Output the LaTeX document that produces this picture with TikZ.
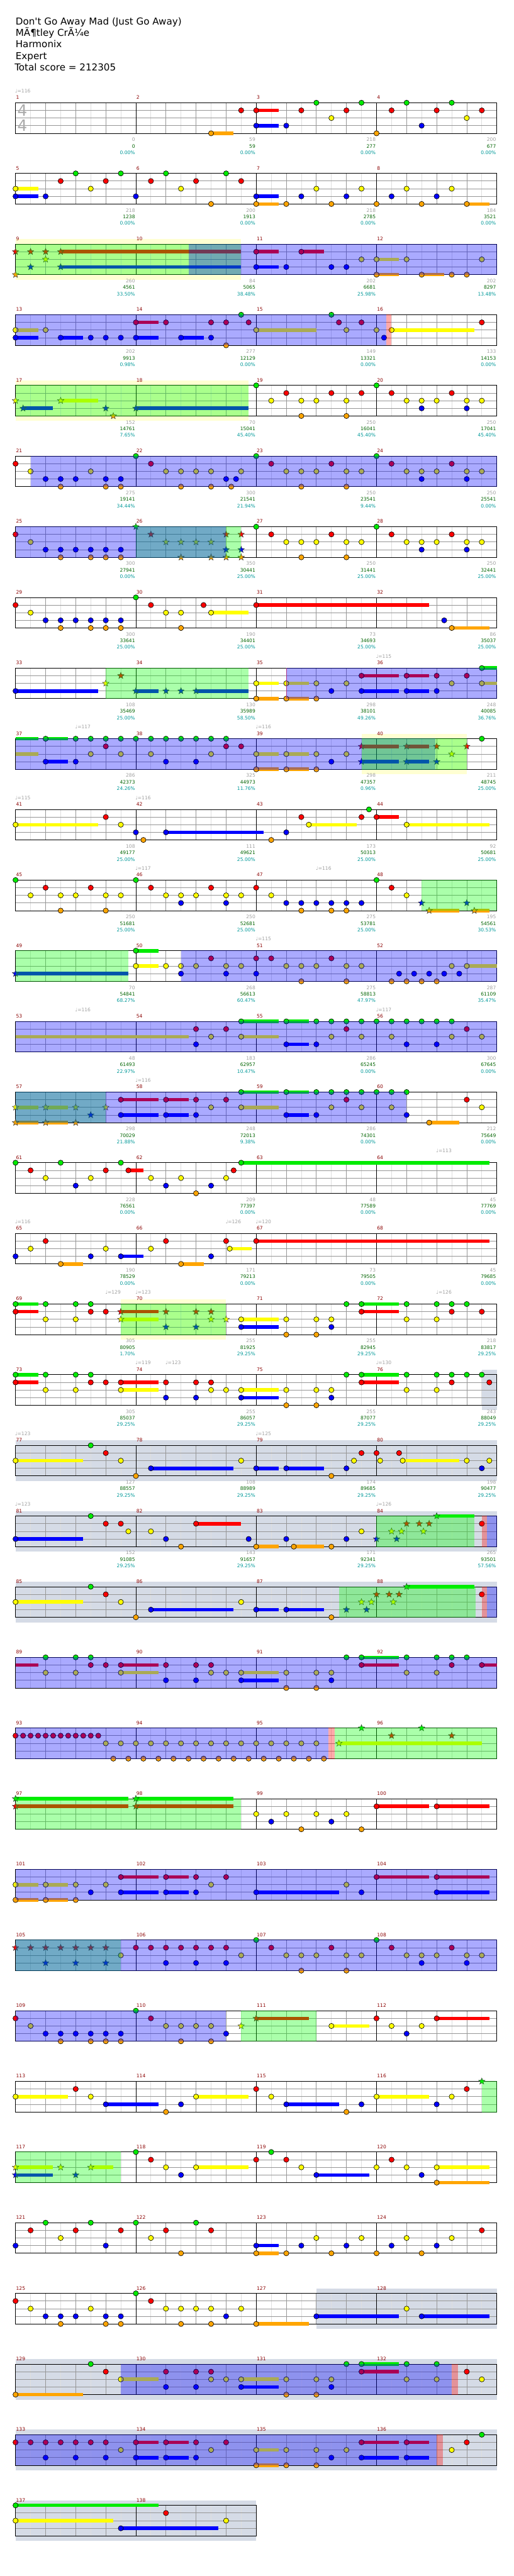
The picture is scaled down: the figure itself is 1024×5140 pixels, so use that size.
\documentclass[tikz,border=0pt]{standalone}
\usepackage{fontspec}
\setmainfont{DejaVu Sans}[Ligatures=TeXOff]
\definecolor{lane0}{RGB}{0,235,0}
\definecolor{lane1}{RGB}{255,0,0}
\definecolor{lane2}{RGB}{255,255,0}
\definecolor{lane3}{RGB}{0,0,255}
\definecolor{lane4}{RGB}{255,165,0}
\definecolor{ovg}{RGB}{0,255,0}
\definecolor{ovb}{RGB}{0,0,255}
\definecolor{ovp}{RGB}{255,0,0}
\definecolor{mnumc}{RGB}{139,0,0}
\definecolor{graytxt}{RGB}{160,160,160}
\definecolor{greentxt}{RGB}{0,100,0}
\definecolor{tealtxt}{RGB}{0,153,153}
\definecolor{gridc}{RGB}{150,150,150}
\definecolor{lgridc}{RGB}{222,222,222}
\definecolor{bgyel}{RGB}{255,255,210}
\definecolor{bgslate}{RGB}{213,219,230}
\definecolor{tsigc}{RGB}{170,170,170}
\tikzset{
  notec/.style={draw=black,line width=0.8pt},
  starc/.style={draw=black!80,line width=0.6pt},
  susb/.style={line width=7pt},
  gridl/.style={draw=gridc,line width=1pt},
  lgridl/.style={draw=lgridc,line width=1pt},
  barl/.style={draw=black,line width=1pt},
  mnum/.style={font=\fontsize{9.5}{11}\selectfont,text=mnumc,inner sep=0pt,anchor=base west},
  gnum/.style={font=\fontsize{9.5}{11}\selectfont,text=graytxt,inner sep=0pt,anchor=base east},
  snum/.style={font=\fontsize{9.5}{11}\selectfont,text=greentxt,inner sep=0pt,anchor=base east},
  pnum/.style={font=\fontsize{9.5}{11}\selectfont,text=tealtxt,inner sep=0pt,anchor=base east},
  tempo/.style={font=\fontsize{9.5}{11}\selectfont,text=graytxt,inner sep=0pt,anchor=base west},
  titl/.style={font=\fontsize{19}{23}\selectfont,text=black,inner sep=0pt,anchor=base west},
  tsig/.style={font=\fontsize{31}{31}\selectfont,text=tsigc,inner sep=0pt,anchor=center},
}
\newcount\tcnt
\newcommand\RowAt[1]{\pgfmathsetmacro\RT{205+141*(#1-1)}}
\newcommand\Nn[2]{\foreach \lnn in {#2}{\filldraw[notec,fill=lane\lnn] ({31+60*(#1)},{\RT+15.25*\lnn}) circle[radius=5.2];}}
\newcommand\Sus[3]{\foreach \lnn in {#2}{\draw[susb,lane\lnn] ({31+60*(#1)},{\RT+15.25*\lnn}) -- ({31+60*(#3)},{\RT+15.25*\lnn});}}
\newcommand\Ns[3]{\Sus{#1}{#2}{#3}\Nn{#1}{#2}}
\newcommand\Xn[2]{\foreach \lnn in {#2}{%
  \pgfmathsetmacro\cx{31+60*(#1)}\pgfmathsetmacro\cy{\RT+15.25*\lnn}%
  \filldraw[starc,fill=lane\lnn] (\cx,{\cy-6.8}) \foreach \k in {1,...,9}{ -- ({\cx+((mod(\k,2)==0)?6.8:2.9)*cos(-90+36*\k)},{\cy+((mod(\k,2)==0)?6.8:2.9)*sin(-90+36*\k)}) } -- cycle;}}
\newcommand\Xs[3]{\Sus{#1}{#2}{#3}\Xn{#1}{#2}}
\newcommand\OvG[2]{\fill[ovg,opacity=0.333] ({31+60*(#1)},{\RT-0.5}) rectangle ({31+60*(#2)},{\RT+61.5});}
\newcommand\OvB[2]{\fill[ovb,opacity=0.333] ({31+60*(#1)},{\RT-0.5}) rectangle ({31+60*(#2)},{\RT+61.5});}
\newcommand\OvP[2]{\fill[ovp,opacity=0.333] ({31+60*(#1)},{\RT-0.5}) rectangle ({31+60*(#2)},{\RT+61.5});}
\newcommand\RL[1]{\draw[red!70,line width=1pt] ({31+60*(#1)},\RT) -- ({31+60*(#1)},{\RT+61});}
\newcommand\BgY[2]{\fill[bgyel] ({31+60*(#1)},{\RT-10}) rectangle ({31+60*(#2)},{\RT+71});}
\newcommand\BgS[2]{\fill[bgslate] ({31+60*(#1)},{\RT-10}) rectangle ({31+60*(#2)},{\RT+71});}
\newcommand\Staff[1]{%
  \pgfmathsetmacro\XE{31+240*#1}\pgfmathtruncatemacro\NB{4*#1}%
  \foreach \i in {1,...,\NB}{\draw[lgridl] ({1+60*\i},\RT) -- ({1+60*\i},{\RT+61});}%
  \foreach \i in {1,...,\NB}{\draw[gridl] ({31+60*\i},\RT) -- ({31+60*\i},{\RT+61});}%
  \foreach \k in {1,2,3}{\draw[gridl] (31,{\RT+15.25*\k}) -- (\XE,{\RT+15.25*\k});}%
  \foreach \m in {1,...,#1}{\draw[barl] ({31+240*\m},\RT) -- ({31+240*\m},{\RT+61});}%
  \draw[barl] (31,\RT) rectangle (\XE,{\RT+61});}
\newcommand\Meas[5]{%
  \node[mnum] (m#2) at ({32+240*#1},{\RT-7}) {#2};
  \node[gnum] (g#2) at ({29.5+240*(#1+1)},{\RT+77}) {#3};
  \node[snum] (s#2) at ({29.5+240*(#1+1)},{\RT+90}) {#4};
  \node[pnum] (p#2) at ({29.5+240*(#1+1)},{\RT+103}) {#5\%};}
\newcommand\MN[2]{\node[mnum] (m#2) at ({32+240*#1},{\RT-7}) {#2};}
\newcommand\Tempo[2]{\global\advance\tcnt by 1
  \node[tempo] (tempo\the\tcnt) at ({30+60*(#1)},{\RT-20}) {♩=#2};}
\newcommand\RowMN[1]{\foreach \q in {0,...,3}{\pgfmathtruncatemacro\mm{4*#1-3+\q}\MN{\q}{\mm}}}
\begin{document}
\begin{tikzpicture}[x=1pt,y=-1pt]
\useasboundingbox (0,0) rectangle (1024,5140);
\fill[white] (0,0) rectangle (1024,5140);
\node[titl] (title) at (31,49) {Don't Go Away Mad (Just Go Away)};
\node[titl] (artist) at (31,72) {MÃ¶tley CrÃ¼e};
\node[titl] (charter) at (31,95) {Harmonix};
\node[titl] (diff) at (31,118) {Expert};
\node[titl] (score) at (29,141) {Total score = 212305};
% ---------- row 1
\RowAt{1}\Staff{4}
\node[tsig] (ts1) at (44.5,{\RT+15.5}) {4};
\node[tsig] (ts2) at (44.5,{\RT+45}) {4};
\Tempo{0}{116}
\Meas{0}{1}{0}{0}{0.00}\Meas{1}{2}{59}{59}{0.00}\Meas{2}{3}{218}{277}{0.00}\Meas{3}{4}{200}{677}{0.00}
\Ns{6.5}{4}{7.25}\Nn{7.5}{1}\Ns{8}{1,3}{8.75}\Nn{9}{3}\Nn{9.5}{1}\Nn{10}{0}\Nn{10.5}{2}\Nn{11}{1}\Nn{11.5}{0}\Nn{12}{4}\Nn{12.5}{1}\Nn{13}{0}\Nn{13.5}{3}\Nn{14}{1}\Nn{14.5}{0}\Nn{15}{2}\Nn{15.5}{1}
% ---------- row 2
\RowAt{2}\Staff{4}
\Meas{0}{5}{218}{1238}{0.00}\Meas{1}{6}{200}{1913}{0.00}\Meas{2}{7}{218}{2785}{0.00}\Meas{3}{8}{184}{3521}{0.00}
\Ns{0}{2,3}{0.75}\Nn{1}{3}\Nn{1.5}{1}\Nn{2}{0}\Nn{2.5}{2}\Nn{3}{1}\Nn{3.5}{0}\Nn{4}{3}\Nn{4.5}{1}\Nn{5}{0}\Nn{5.5}{2}\Nn{6}{1}\Nn{6.5}{4}\Nn{7}{0}\Nn{7.5}{1}
\Ns{8}{3,4}{8.75}\Nn{9}{4}\Nn{9.5}{3}\Nn{10}{2}\Nn{10.5}{4}\Nn{11}{3}\Nn{11.5}{2}\Nn{12}{4}\Nn{12.5}{3}\Nn{13}{2}\Nn{13.5}{4}\Nn{14}{3}\Nn{14.5}{2}\Ns{15}{4}{15.75}
% ---------- row 3
\RowAt{3}\BgY{0}{7.5}\Staff{4}
\Meas{0}{9}{260}{4561}{33.50}\Meas{1}{10}{84}{5065}{38.48}\Meas{2}{11}{202}{6681}{25.98}\Meas{3}{12}{202}{8297}{13.48}
\Xn{0}{1,4}\Xn{0.5}{1,3}\Xn{1}{1,2}\Xs{1.5}{1,3}{7.5}
\Ns{8}{1,3}{8.75}\Nn{9}{3}\Ns{9.5}{1}{10.25}\Nn{10.5}{3}\Nn{11}{3}\Nn{11.5}{2}\Ns{12}{2,4}{12.75}\Nn{13}{2}\Ns{13.5}{4}{14.25}\Nn{14.5}{4}\Nn{15}{4}\Nn{15.5}{2}
\OvG{0}{7.5}\OvB{5.75}{16}
% ---------- row 4
\RowAt{4}\Staff{4}
\Meas{0}{13}{202}{9913}{0.98}\Meas{1}{14}{277}{12129}{0.00}\Meas{2}{15}{149}{13321}{0.00}\Meas{3}{16}{133}{14153}{0.00}
\Ns{0}{2,3}{0.75}\Nn{1}{2}\Ns{1.5}{3}{2.25}\Nn{2.5}{3}\Nn{3}{3}\Nn{3.5}{3}\Ns{4}{1,3}{4.75}\Nn{5}{1}\Ns{5.5}{3}{6.25}\Nn{6.5}{1,3}\Nn{7}{1,4}\Nn{7.5}{0}\Nn{7.75}{1}\Ns{8}{2}{10}\Nn{10.5}{0}\Nn{10.75}{1}\Nn{11}{2}\Nn{11.5}{1}\Nn{12}{2}\Nn{12.25}{3}\Ns{12.5}{2}{15.25}\Nn{15.5}{1}
\OvB{0}{12.32}\OvP{12.32}{12.5}
% ---------- row 5
\RowAt{5}\BgY{0}{7.75}\Staff{4}
\Meas{0}{17}{152}{14761}{7.65}\Meas{1}{18}{70}{15041}{45.40}\Meas{2}{19}{250}{16041}{45.40}\Meas{3}{20}{250}{17041}{45.40}
\Xn{0}{2}\Xs{0.25}{3}{1.25}\Xs{1.5}{2}{2.75}\Xn{3}{3}\Xn{3.25}{4}\Xs{4}{3}{7.75}
\Nn{8}{0}\Nn{8.5}{2}\Nn{9}{1}\Nn{9.5}{2,4}\Nn{10}{2}\Nn{10.5}{1}\Nn{11}{2,4}\Nn{11.5}{1}\Nn{12}{0}\Nn{12.5}{1}\Nn{13}{2}\Nn{13.5}{2,3}\Nn{14}{2}\Nn{14.5}{1}\Nn{15}{2,3}\Nn{15.5}{2}
\OvG{0}{7.75}
% ---------- row 6
\RowAt{6}\Staff{4}
\Meas{0}{21}{275}{19141}{34.44}\Meas{1}{22}{300}{21541}{21.94}\Meas{2}{23}{250}{23541}{9.44}\Meas{3}{24}{250}{25541}{0.00}
\Nn{0}{1}\Nn{0.5}{2}\Nn{1}{3}\Nn{1.5}{3,4}\Nn{2}{3}\Nn{2.5}{2}\Nn{3}{3,4}\Nn{3.5}{3,4}\Nn{4}{0}\Nn{4.5}{1}\Nn{5}{2}\Nn{5.5}{2,4}\Nn{6}{2}\Nn{6.5}{2,4}\Nn{7}{3}\Nn{7.17}{4}\Nn{7.33}{3}\Nn{7.5}{2}
\Nn{8}{0}\Nn{8.5}{1}\Nn{9}{2}\Nn{9.5}{2,4}\Nn{10}{2}\Nn{10.5}{1}\Nn{11}{2,4}\Nn{11.5}{2}\Nn{12}{0}\Nn{12.5}{1}\Nn{13}{2}\Nn{13.5}{2,3}\Nn{14}{2}\Nn{14.5}{1}\Nn{15}{2,3}\Nn{15.5}{2}
\OvB{0.5}{16}
% ---------- row 7
\RowAt{7}\Staff{4}
\Meas{0}{25}{300}{27941}{0.00}\Meas{1}{26}{350}{30441}{25.00}\Meas{2}{27}{250}{31441}{25.00}\Meas{3}{28}{250}{32441}{25.00}
\Nn{0}{1}\Nn{0.5}{2}\Nn{1}{3}\Nn{1.5}{3,4}\Nn{2}{3}\Nn{2.5}{3,4}\Nn{3}{3,4}\Nn{3.5}{3,4}
\Xn{4}{0}\Xn{4.5}{1}\Xn{5}{2}\Xn{5.5}{2,4}\Xn{6}{2}\Xn{6.5}{2,4}\Xn{7}{1,3,4}\Xn{7.5}{1,3,4}
\Nn{8}{0}\Nn{8.5}{1}\Nn{9}{2}\Nn{9.5}{2,4}\Nn{10}{2}\Nn{10.5}{1}\Nn{11}{2,4}\Nn{11.5}{2}\Nn{12}{0}\Nn{12.5}{1}\Nn{13}{2}\Nn{13.5}{2,3}\Nn{14}{2}\Nn{14.5}{1}\Nn{15}{2,3}\Nn{15.5}{2}
\OvG{4}{7.5}\OvB{0}{7}
% ---------- row 8
\RowAt{8}\Staff{4}
\Meas{0}{29}{300}{33641}{25.00}\Meas{1}{30}{190}{34401}{25.00}\Meas{2}{31}{73}{34693}{25.00}\Meas{3}{32}{86}{35037}{25.00}
\Nn{0}{1}\Nn{0.5}{2}\Nn{1}{3}\Nn{1.5}{3,4}\Nn{2}{3}\Nn{2.5}{3,4}\Nn{3}{3,4}\Nn{3.5}{3,4}\Nn{4}{0}\Nn{4.5}{1}\Nn{5}{2}\Nn{5.5}{2,4}\Nn{6.25}{1}\Ns{6.5}{2}{7.75}\Ns{8}{1}{13.75}\Nn{14.25}{3}\Ns{14.5}{4}{15.75}
% ---------- row 9
\RowAt{9}\Staff{4}
\Tempo{12}{115}
\Meas{0}{33}{108}{35469}{25.00}\Meas{1}{34}{130}{35989}{58.50}\Meas{2}{35}{298}{38101}{49.26}\Meas{3}{36}{248}{40085}{36.76}
\Ns{0}{3}{2.75}\Xn{3}{2}\Xn{3.5}{1}\Xs{4}{3}{4.75}\Xn{5}{3}\Xn{5.5}{3}\Xs{6}{3}{7.75}
\Ns{8}{2,4}{8.75}\Ns{9}{2,4}{9.75}\Nn{10}{2,4}\Nn{10.5}{3}\Nn{11}{2}\Ns{11.5}{1,3}{12.75}\Ns{13}{1,3}{13.75}\Nn{14}{1,3}\Nn{14.5}{2}\Nn{15}{1}\Ns{15.5}{0,2}{16}
\RL{9}\OvG{3}{7.75}\OvB{9}{16}
% ---------- row 10
\RowAt{10}\BgY{11.5}{15}\Staff{4}
\Tempo{2}{117}\Tempo{8}{116}
\Meas{0}{37}{286}{42373}{24.26}\Meas{1}{38}{325}{44973}{11.76}\Meas{2}{39}{298}{47357}{0.96}\Meas{3}{40}{211}{48745}{25.00}
\Sus{0}{0,2}{0.75}\Ns{1}{0,3}{1.75}\Nn{2}{0,3}\Nn{2.5}{0,2}\Nn{3}{0,1}\Nn{3.5}{0,2}\Nn{4}{0}\Nn{4.5}{0,2}\Nn{5}{0,3}\Nn{5.5}{0}\Nn{6}{0,3}\Nn{6.5}{0,2}\Nn{7}{0,1}\Nn{7.5}{1}
\Ns{8}{2,4}{8.75}\Ns{9}{2,4}{9.75}\Nn{10}{2,4}\Nn{10.5}{3}\Nn{11}{2}
\Xs{11.5}{1,3}{12.75}\Xs{13}{1,3}{13.75}\Xn{14}{1,3}\Xn{14.5}{2}\Xn{15}{1}\Nn{15.5}{0}
\OvB{0}{13.95}\OvG{11.5}{15}
% ---------- row 11
\RowAt{11}\Staff{4}
\Tempo{0}{115}\Tempo{4}{116}
\Meas{0}{41}{108}{49177}{25.00}\Meas{1}{42}{111}{49621}{25.00}\Meas{2}{43}{173}{50313}{25.00}\Meas{3}{44}{92}{50681}{25.00}
\Ns{0}{2}{2.75}\Nn{3}{1}\Nn{3.5}{2}\Nn{4}{3}\Nn{4.25}{4}\Ns{5}{3}{8.25}\Nn{8.5}{4}\Nn{9}{3}\Nn{9.5}{1}\Ns{9.75}{2}{11.35}\Nn{11.5}{1}\Nn{11.75}{0}\Ns{12}{1}{12.75}\Ns{13}{2}{15.75}
% ---------- row 12
\RowAt{12}\Staff{4}
\Tempo{4}{117}\Tempo{10}{116}
\Meas{0}{45}{250}{51681}{25.00}\Meas{1}{46}{250}{52681}{25.00}\Meas{2}{47}{275}{53781}{25.00}\Meas{3}{48}{195}{54561}{30.53}
\Nn{0}{0}\Nn{0.5}{2}\Nn{1}{1}\Nn{1.5}{2,4}\Nn{2}{2}\Nn{2.5}{1}\Nn{3}{2,4}\Nn{3.5}{2}\Nn{4}{0}\Nn{4.5}{1}\Nn{5}{2}\Nn{5.5}{2,3}\Nn{6}{2}\Nn{6.5}{1}\Nn{7}{2,3}\Nn{7.5}{2}\Nn{8}{1}\Nn{8.5}{2}\Nn{9}{3}\Nn{9.5}{3,4}\Nn{10}{3}\Nn{10.5}{3,4}\Nn{11}{3,4}\Nn{11.5}{3}\Nn{12}{0}\Nn{12.5}{1}\Nn{13}{2}
\Xn{13.5}{3}\Xs{13.75}{4}{14.75}\Xn{15}{3}\Xs{15.25}{4}{15.75}
\OvG{13.5}{16}
% ---------- row 13
\RowAt{13}\Staff{4}
\Tempo{8}{115}
\Meas{0}{49}{70}{54841}{68.27}\Meas{1}{50}{268}{56613}{60.47}\Meas{2}{51}{275}{58813}{47.97}\Meas{3}{52}{287}{61109}{35.47}
\Xs{0}{3}{3.75}\Ns{4}{0,2}{4.75}\Nn{5}{2}\Nn{5.5}{2,3}\Nn{6}{2}\Nn{6.5}{1}\Nn{7}{2,3}\Nn{7.5}{2}\Nn{8}{1,3}\Nn{8.5}{1}\Nn{9}{2}\Nn{9.5}{2,4}\Nn{10}{2}\Nn{10.5}{1}\Nn{11}{2,4}\Nn{11.5}{2}\Nn{12.5}{4}\Nn{12.75}{3}\Nn{13}{4}\Nn{13.25}{3}\Nn{13.5}{4}\Nn{13.75}{3}\Nn{14}{4}\Nn{14.25}{3}\Nn{14.5}{2}\Nn{14.75}{3}\Ns{15}{2}{16}
\OvG{0}{3.75}\OvB{5.5}{16}
% ---------- row 14
\RowAt{14}\Staff{4}
\Tempo{2}{116}\Tempo{12}{117}
\Meas{0}{53}{48}{61493}{22.97}\Meas{1}{54}{183}{62957}{10.47}\Meas{2}{55}{286}{65245}{0.00}\Meas{3}{56}{300}{67645}{0.00}
\Sus{0}{2}{5.75}\Nn{6}{1,3}\Nn{6.5}{2}\Nn{7}{1}\Ns{7.5}{0,2}{8.75}\Ns{9}{0,3}{9.75}\Nn{10}{0,3}\Nn{10.5}{0,2}\Nn{11}{0,1}\Nn{11.5}{0,2}\Nn{12}{0}\Nn{12.5}{0,2}\Nn{13}{0,3}\Nn{13.5}{0}\Nn{14}{0,3}\Nn{14.5}{0,2}\Nn{15}{1}\Nn{15.5}{2}
\OvB{0}{16}
% ---------- row 15
\RowAt{15}\Staff{4}
\Tempo{4}{116}
\Meas{0}{57}{298}{70029}{21.88}\Meas{1}{58}{248}{72013}{9.38}\Meas{2}{59}{286}{74301}{0.00}\Meas{3}{60}{212}{75649}{0.00}
\Xs{0}{2,4}{0.75}\Xs{1}{2,4}{1.75}\Xn{2}{2,4}\Xn{2.5}{3}\Xn{3}{2}
\Ns{3.5}{1,3}{4.75}\Ns{5}{1,3}{5.75}\Nn{6}{1,3}\Nn{6.5}{2}\Nn{7}{1}\Ns{7.5}{0,2}{8.75}\Ns{9}{0,3}{9.75}\Nn{10}{0,3}\Nn{10.5}{0,2}\Nn{11}{0,1}\Nn{11.5}{0,2}\Nn{12}{0}\Nn{12.5}{0,2}\Nn{13}{0,3}\Ns{13.75}{4}{14.75}\Nn{15}{1}\Nn{15.5}{2}
\OvG{0}{3}\OvB{0}{13}
% ---------- row 16
\RowAt{16}\Staff{4}
\Tempo{14}{113}
\Meas{0}{61}{228}{76561}{0.00}\Meas{1}{62}{209}{77397}{0.00}\Meas{2}{63}{48}{77589}{0.00}\Meas{3}{64}{45}{77769}{0.00}
\Nn{0}{0}\Nn{0.5}{1}\Nn{1}{2}\Nn{1.5}{0}\Nn{2}{3}\Nn{2.5}{2}\Nn{3}{1}\Nn{3.5}{0}\Ns{3.75}{1}{4.25}\Nn{4.5}{2}\Nn{5}{3}\Nn{5.5}{2}\Nn{6}{4}\Nn{6.5}{3}\Nn{7}{2}\Nn{7.25}{1}\Ns{7.5}{0}{15.75}
% ---------- row 17
\RowAt{17}\Staff{4}
\Tempo{0}{116}\Tempo{7}{126}\Tempo{8}{120}
\Meas{0}{65}{190}{78529}{0.00}\Meas{1}{66}{171}{79213}{0.00}\Meas{2}{67}{73}{79505}{0.00}\Meas{3}{68}{45}{79685}{0.00}
\Nn{0}{3}\Nn{0.5}{2}\Nn{1}{1}\Ns{1.5}{4}{2.25}\Nn{2.5}{3}\Nn{3}{2}\Ns{3.5}{3}{4.25}\Nn{4.5}{2}\Nn{5}{1}\Ns{5.5}{4}{6.25}\Nn{6.5}{3}\Nn{7}{1}\Ns{7.12}{2}{7.85}\Ns{8}{1}{15.75}
% ---------- row 18
\RowAt{18}\BgY{3.5}{7}\Staff{4}
\Tempo{3}{129}\Tempo{4}{123}\Tempo{14}{126}
\Meas{0}{69}{305}{80905}{1.70}\Meas{1}{70}{255}{81925}{29.25}\Meas{2}{71}{255}{82945}{29.25}\Meas{3}{72}{218}{83817}{29.25}
\Ns{0}{0,1}{0.75}\Nn{1}{0,2}\Nn{2}{0,2}\Nn{2.5}{0,1}\Nn{3}{1}\Xs{3.5}{1,2}{4.75}\Xn{5}{1,3}\Xn{6}{1,3}\Xn{6.5}{1,2}\Xn{7}{2}\Ns{7.5}{2,3}{8.75}\Nn{9}{2,4}\Nn{10}{2,4}\Nn{10.5}{2,3}\Nn{11}{0}\Ns{11.5}{0,1}{12.75}\Nn{13}{0,2}\Nn{14}{0,2}\Nn{14.5}{0,1}\Nn{15}{0}\Nn{15.5}{1}
\OvG{3.5}{7}
% ---------- row 19
\RowAt{19}\BgS{15.5}{16}\Staff{4}
\Tempo{4}{119}\Tempo{5}{123}\Tempo{12}{130}
\Meas{0}{73}{305}{85037}{29.25}\Meas{1}{74}{255}{86057}{29.25}\Meas{2}{75}{255}{87077}{29.25}\Meas{3}{76}{243}{88049}{29.25}
\Ns{0}{0,1}{0.75}\Nn{1}{0,2}\Nn{2}{0,2}\Nn{2.5}{0,1}\Nn{3}{1}\Ns{3.5}{1,2}{4.75}\Nn{5}{1,3}\Nn{6}{1,3}\Nn{6.5}{1,2}\Nn{7}{2}\Ns{7.5}{2,3}{8.75}\Nn{9}{2,4}\Nn{10}{2,4}\Nn{10.5}{2,3}\Nn{11}{0}\Ns{11.5}{0,1}{12.75}\Nn{13}{0,2}\Nn{14}{0,2}\Nn{14.5}{0,1}\Nn{15}{0}\Nn{15.5}{0}\Nn{15.75}{1}
% ---------- row 20
\RowAt{20}\BgS{0}{16}\Staff{4}
\Tempo{0}{123}\Tempo{8}{125}
\Meas{0}{77}{127}{88557}{29.25}\Meas{1}{78}{108}{88989}{29.25}\Meas{2}{79}{174}{89685}{29.25}\Meas{3}{80}{198}{90477}{29.25}
\Ns{0}{2}{2.25}\Nn{2.5}{0}\Nn{3}{1}\Nn{3.5}{2}\Nn{4}{4}\Ns{4.5}{3}{7.25}\Nn{7.5}{2}\Ns{8}{3}{8.75}\Ns{9}{3}{10.25}\Nn{10.5}{4}\Nn{11}{3}\Nn{11.25}{2}\Nn{11.5}{1}\Nn{12}{1}\Nn{12.12}{2}\Nn{12.75}{1}\Ns{12.87}{2}{14.75}\Nn{15}{2}\Nn{15.5}{3}\Nn{15.75}{2}
% ---------- row 21
\RowAt{21}\BgS{0}{16}\Staff{4}
\Tempo{0}{123}\Tempo{12}{126}
\Meas{0}{81}{152}{91085}{29.25}\Meas{1}{82}{143}{91657}{29.25}\Meas{2}{83}{171}{92341}{29.25}\Meas{3}{84}{265}{93501}{57.56}
\Ns{0}{3}{2.25}\Nn{2.5}{0}\Nn{3}{1}\Nn{3.5}{1}\Nn{3.75}{2}\Nn{4.5}{2}\Nn{5}{3}\Nn{5.5}{4}\Ns{6}{1}{7.5}\Nn{7.75}{3}\Ns{8}{4}{8.75}\Nn{9}{3}\Ns{9.25}{4}{10.25}\Nn{10.5}{4}\Nn{11}{3}\Nn{11.5}{2}
\Xn{12}{3}\Xn{12.5}{2}\Xn{12.67}{3}\Xn{12.83}{2}\Xn{13}{1}\Xn{13.42}{1}\Xn{13.56}{2}\Xn{13.75}{1}\Xs{14}{0}{15.25}\Nn{15.5}{1}
\OvG{12}{15.25}\OvP{15.5}{15.67}\OvB{15.67}{16}
% ---------- row 22
\RowAt{22}\BgS{0}{16}\Staff{4}\RowMN{22}
\Ns{0}{2}{2.25}\Nn{2.5}{0}\Nn{3}{1}\Nn{3.5}{2}\Nn{4}{4}\Ns{4.5}{3}{7.25}\Nn{7.5}{2}\Ns{8}{3}{8.75}\Ns{9}{3}{10.25}\Nn{10.5}{4}
\Xn{11}{3}\Xn{11.5}{2}\Xn{11.67}{3}\Xn{11.83}{2}\Xn{12}{1}\Xn{12.42}{1}\Xn{12.56}{2}\Xn{12.75}{1}\Xs{13}{0}{15.25}\Nn{15.5}{1}
\OvG{10.75}{15.3}\OvP{15.5}{15.67}\OvB{15.67}{16}
% ---------- row 23
\RowAt{23}\Staff{4}\RowMN{23}
\Sus{0}{1}{0.75}\Nn{1}{0,2}\Nn{2}{0,2}\Nn{2.5}{0,1}\Nn{3}{1}\Ns{3.5}{1,2}{4.75}\Nn{5}{1,3}\Nn{6}{1,3}\Nn{6.5}{1,2}\Nn{7}{2}\Ns{7.5}{2,3}{8.75}\Nn{9}{2,4}\Nn{10}{2,4}\Nn{10.5}{2,3}\Nn{11}{0}\Ns{11.5}{0,1}{12.75}\Nn{13}{0,2}\Nn{14}{0,2}\Nn{14.5}{0,1}\Nn{15}{0}\Ns{15.5}{1}{16}
\OvB{0}{16}
% ---------- row 24
\RowAt{24}\Staff{4}\RowMN{24}
\foreach \b in {0,0.25,...,2.75}{\Nn{\b}{1}}
\foreach \b in {3,3.5,...,10}{\Nn{\b}{2}}
\foreach \b in {3.25,3.75,...,10.25}{\Nn{\b}{4}}
\Xs{10.75}{2}{15.5}\Xn{11.5}{0}\Xn{12.5}{1}\Xn{13.5}{0}\Xn{14.5}{1}
\OvB{0}{10.4}\OvP{10.4}{10.6}\OvG{10.6}{16}
% ---------- row 25
\RowAt{25}\Staff{4}\RowMN{25}
\Xs{0}{0,1}{3.75}\Xs{4}{0,1}{7.25}
\Nn{8}{2}\Nn{8.5}{3}\Nn{9}{2}\Nn{9.5}{4}\Nn{10}{2}\Nn{10.5}{3}\Nn{11}{2}\Nn{11.5}{4}\Ns{12}{1}{13.75}\Ns{14}{1}{15.75}
\OvG{0}{7.5}
% ---------- row 26
\RowAt{26}\Staff{4}\RowMN{26}
\Ns{0}{2,4}{0.75}\Ns{1}{2,4}{1.75}\Nn{2}{2,4}\Nn{2.5}{3}\Nn{3}{2}\Ns{3.5}{1,3}{4.75}\Ns{5}{1,3}{5.75}\Nn{6}{1,3}\Nn{6.5}{2}\Nn{7}{1}\Ns{8}{3}{10.75}\Nn{11}{2}\Nn{11.5}{3}\Ns{12}{1}{13.75}\Ns{14}{1,3}{15.75}
\OvB{0}{16}
% ---------- row 27
\RowAt{27}\Staff{4}\RowMN{27}
\Xn{0}{1}\Xn{0.5}{1}\Xn{1}{1,3}\Xn{1.5}{1}\Xn{2}{1,3}\Xn{2.5}{1}\Xn{3}{1,3}\Nn{3.5}{2}\Nn{4}{1}\Nn{4.5}{1}\Nn{5}{1,3}\Nn{5.5}{1}\Nn{6}{1,3}\Nn{6.5}{1}\Nn{7}{1,3}\Nn{7.5}{2}\Nn{8}{0}\Nn{8.5}{1}\Nn{9}{2}\Nn{9.5}{2,4}\Nn{10}{2}\Nn{10.5}{1}\Nn{11}{2,4}\Nn{11.5}{2}\Nn{12}{0}\Nn{12.5}{1}\Nn{13}{2}\Nn{13.5}{2,3}\Nn{14}{2}\Nn{14.5}{1}\Nn{15}{2,3}\Nn{15.5}{2}
\OvG{0}{3.5}\OvB{0}{16}
% ---------- row 28
\RowAt{28}\Staff{4}\RowMN{28}
\Nn{0}{1}\Nn{0.5}{2}\Nn{1}{3}\Nn{1.5}{3,4}\Nn{2}{3}\Nn{2.5}{3,4}\Nn{3}{3,4}\Nn{3.5}{3,4}\Nn{4}{0}\Nn{4.5}{1}\Nn{5}{2}\Nn{5.5}{2,4}\Nn{6}{2}\Nn{6.5}{2,4}\Nn{7}{3}\Xn{7.5}{2}\Xs{8}{1}{9.75}\Ns{10.5}{2}{11.75}\Nn{12}{1}\Nn{12.5}{2}\Nn{13}{3}\Nn{13.5}{2}\Ns{14}{1}{15.75}
\OvB{0}{7}\OvG{7.5}{10}
% ---------- row 29
\RowAt{29}\Staff{4}\RowMN{29}
\Ns{0}{2}{1.75}\Nn{2}{1}\Nn{2.5}{2}\Ns{3}{3}{4.75}\Nn{5}{4}\Nn{5.5}{3}\Ns{6}{2}{7.75}\Nn{8}{1}\Nn{8.5}{2}\Ns{9}{3}{10.75}\Nn{11}{4}\Nn{11.5}{3}\Ns{12}{2}{13.75}\Nn{14}{3}\Nn{14.5}{2}\Nn{15}{1}\Xn{15.5}{0}
\OvG{15.5}{16}
% ---------- row 30
\RowAt{30}\Staff{4}\RowMN{30}
\Xs{0}{2,3}{1.25}\Xn{1.5}{2}\Xn{2}{3}\Xs{2.5}{2}{3.25}\Nn{4}{0}\Nn{4.5}{1}\Nn{5}{2}\Nn{5.5}{3}\Ns{6}{2}{7.75}\Nn{8}{1}\Nn{8.5}{0}\Nn{9}{1}\Nn{9.5}{2}\Ns{10}{3}{11.75}\Nn{12}{2}\Nn{12.5}{1}\Nn{13}{2}\Nn{13.5}{3}\Ns{14}{2,4}{15.75}
\OvG{0}{3.5}
% ---------- row 31
\RowAt{31}\Staff{4}\RowMN{31}
\Nn{0}{3}\Nn{0.5}{1}\Nn{1}{0}\Nn{1.5}{2}\Nn{2}{1}\Nn{2.5}{0}\Nn{3}{3}\Nn{3.5}{1}\Nn{4}{0}\Nn{4.5}{2}\Nn{5}{1}\Nn{5.5}{4}\Nn{6}{0}\Nn{6.5}{1}\Ns{8}{3,4}{8.75}\Nn{9}{4}\Nn{9.5}{3}\Nn{10}{2}\Nn{10.5}{4}\Nn{11}{3}\Nn{11.5}{2}\Nn{12}{4}\Nn{12.5}{3}\Nn{13}{2}\Nn{13.5}{4}\Nn{14}{3}\Nn{14.5}{2}\Nn{15.5}{1}
% ---------- row 32
\RowAt{32}\BgS{10}{16}\Staff{4}\RowMN{32}
\Nn{0}{1}\Nn{0.5}{2}\Nn{1}{3}\Nn{1.5}{3,4}\Nn{2}{3}\Nn{2.5}{2}\Nn{3}{3,4}\Nn{3.5}{3,4}\Nn{4}{0}\Nn{4.5}{1}\Nn{5}{2}\Nn{5.5}{2,4}\Nn{6}{2}\Nn{6.5}{2,4}\Nn{7}{3}\Nn{7.5}{2}\Ns{8}{4}{9.75}\Ns{10}{3}{12.75}\Nn{13}{2}\Ns{13.5}{3}{15.75}
% ---------- row 33
\RowAt{33}\BgS{0}{16}\Staff{4}\RowMN{33}
\Ns{0}{4}{2.25}\Nn{2.5}{0}\Nn{3}{1}\Ns{3.5}{2}{4.75}\Nn{5}{1,3}\Nn{6}{1,3}\Nn{6.5}{1,2}\Nn{7}{2}\Ns{7.5}{2,3}{8.75}\Nn{9}{2,4}\Nn{10}{2,4}\Nn{10.5}{2,3}\Nn{11}{0}\Ns{11.5}{0,1}{12.75}\Nn{13}{0,2}\Nn{14}{0,2}\Nn{15}{1}\Nn{15.5}{2}
\OvB{3.5}{14.5}\OvP{14.5}{14.7}
% ---------- row 34
\RowAt{34}\BgS{0}{16}\Staff{4}\RowMN{34}
\Nn{0}{1}\Nn{0.5}{1}\Nn{1}{1,3}\Nn{1.5}{1}\Nn{2}{1,3}\Nn{2.5}{1}\Nn{3}{1,3}\Nn{3.5}{2}\Ns{4}{1,3}{4.75}\Ns{5}{1,3}{5.75}\Nn{6}{1,3}\Nn{6.5}{2}\Nn{7}{1}\Ns{8}{2,4}{8.75}\Nn{9}{2,4}\Nn{10}{2,4}\Nn{10.5}{3}\Nn{11}{2}\Ns{11.5}{1,3}{12.75}\Ns{13}{1,3}{13.75}\Nn{14.5}{2}\Nn{15}{1}\Nn{15.5}{0}
\OvB{0}{14}\OvP{14}{14.2}
% ---------- row 35
\RowAt{35}\BgS{0}{8}\Staff{2}\MN{0}{137}\MN{1}{138}
\Ns{0}{0}{4.75}\Ns{0}{2}{3.25}\Ns{3.5}{3}{6.75}\Nn{5}{1}\Nn{7}{2}
\end{tikzpicture}
\end{document}
